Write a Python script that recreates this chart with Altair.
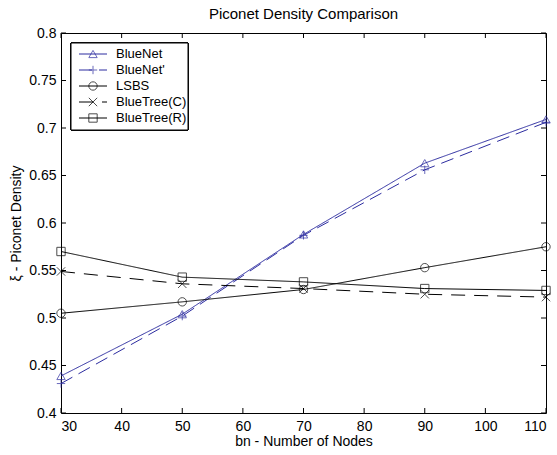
import altair as alt
import pandas as pd

nodes = [30, 50, 70, 90, 110]
series_names = ["BlueNet", "BlueNet'", "LSBS", "BlueTree(C)", "BlueTree(R)"]
bluenet = [0.439, 0.504, 0.588, 0.663, 0.709]
bluenet_p = [0.431, 0.502, 0.587, 0.656, 0.706]
lsbs = [0.505, 0.517, 0.530, 0.553, 0.575]
bluetree_c = [0.549, 0.536, 0.531, 0.525, 0.522]
bluetree_r = [0.570, 0.543, 0.538, 0.531, 0.529]

x_ticks = [30, 40, 50, 60, 70, 80, 90, 100, 110]
y_ticks = [0.4, 0.45, 0.5, 0.55, 0.6, 0.65, 0.7, 0.75, 0.8]

colors = ["#2c2ca0", "#2c2ca0", "#000000", "#000000", "#000000"]
dashes = [[1, 0], [13, 7], [1, 0], [14, 9], [1, 0]]
shapes = ["triangle-up", "M-1,0L1,0M0,-1L0,1", "circle", "M-1,-1L1,1M-1,1L1,-1", "square"]

W, H = 485, 380
FONT = "Liberation Sans"

rows = []
for name, vals in zip(series_names, [bluenet, bluenet_p, lsbs, bluetree_c, bluetree_r]):
    for n, v in zip(nodes, vals):
        rows.append({"series": name, "nodes": n, "value": v})
df = pd.DataFrame(rows)

xs = alt.Scale(domain=[30, 110], nice=False, zero=False)
ys = alt.Scale(domain=[0.4, 0.8], nice=False, zero=False)
cs = alt.Scale(domain=series_names, range=colors)
ds = alt.Scale(domain=series_names, range=dashes)
ss = alt.Scale(domain=series_names, range=shapes)

base = alt.Chart(df)
lines = base.mark_line(strokeWidth=1).encode(
    x=alt.X("nodes:Q", scale=xs,
            axis=alt.Axis(values=x_ticks, title="bn - Number of Nodes", ticks=False, domain=False,
                          grid=False, labelPadding=6, titlePadding=1)),
    y=alt.Y("value:Q", scale=ys,
            axis=alt.Axis(values=y_ticks, format="~g", title="ξ - Piconet Density", ticks=False,
                          domain=False, grid=False, labelPadding=5, titlePadding=5)),
    color=alt.Color("series:N", scale=cs, legend=None),
    strokeDash=alt.StrokeDash("series:N", scale=ds, legend=None),
    detail="series:N",
)
points = base.mark_point(filled=False, size=70, strokeWidth=1).encode(
    x=alt.X("nodes:Q", scale=xs),
    y=alt.Y("value:Q", scale=ys),
    color=alt.Color("series:N", scale=cs, legend=None),
    shape=alt.Shape("series:N", scale=ss, legend=None),
)

xt = pd.DataFrame({"t": x_ticks})
yt = pd.DataFrame({"t": y_ticks})
xtick_bot = alt.Chart(xt).mark_rule(color="black", strokeWidth=1).encode(
    x=alt.X("t:Q", scale=xs), y=alt.value(H), y2=alt.value(H - 5))
xtick_top = alt.Chart(xt).mark_rule(color="black", strokeWidth=1).encode(
    x=alt.X("t:Q", scale=xs), y=alt.value(0), y2=alt.value(5))
ytick_l = alt.Chart(yt).mark_rule(color="black", strokeWidth=1).encode(
    y=alt.Y("t:Q", scale=ys), x=alt.value(0), x2=alt.value(5))
ytick_r = alt.Chart(yt).mark_rule(color="black", strokeWidth=1).encode(
    y=alt.Y("t:Q", scale=ys), x=alt.value(W - 5), x2=alt.value(W))

main = alt.layer(lines, points, xtick_bot, xtick_top, ytick_l, ytick_r)

leg_df = pd.DataFrame({"series": series_names, "idx": list(range(len(series_names)))})
ly = alt.Y("idx:Q", scale=alt.Scale(domain=[0, 4], range=[21, 85]), axis=None)
leg_box = alt.Chart(leg_df).mark_rect(fill="white", stroke="black", strokeWidth=1).encode(
    x=alt.value(10), x2=alt.value(127), y=alt.value(10), y2=alt.value(97))
leg_line = alt.Chart(leg_df).mark_rule(strokeWidth=1).encode(
    x=alt.value(18), x2=alt.value(46), y=ly,
    color=alt.Color("series:N", scale=cs, legend=None),
    strokeDash=alt.StrokeDash("series:N", scale=ds, legend=None))
leg_pt = alt.Chart(leg_df).mark_point(filled=False, size=70, strokeWidth=1).encode(
    x=alt.value(32), y=ly,
    color=alt.Color("series:N", scale=cs, legend=None),
    shape=alt.Shape("series:N", scale=ss, legend=None))
leg_txt = alt.Chart(leg_df).mark_text(align="left", baseline="middle", font=FONT, fontSize=13,
                                      color="black").encode(
    x=alt.value(55), y=ly, text="series:N")
legend = alt.layer(leg_box, leg_line, leg_pt, leg_txt)

chart = alt.layer(main, legend).resolve_scale(y="independent").properties(
    width=W, height=H,
    title=alt.TitleParams("Piconet Density Comparison", font=FONT, fontSize=15,
                          fontWeight="normal", color="black", offset=4),
    autosize=alt.AutoSizeParams(type="none"),
    padding={"left": 61, "top": 33, "right": 11, "bottom": 42},
    background="white",
).configure_view(stroke="black", strokeWidth=1).configure_axis(
    labelFont=FONT, labelFontSize=14, labelColor="black",
    titleFont=FONT, titleFontSize=14, titleFontWeight="normal", titleColor="black",
)

chart.save("out.html", embed_options={"renderer": "svg", "actions": False})
